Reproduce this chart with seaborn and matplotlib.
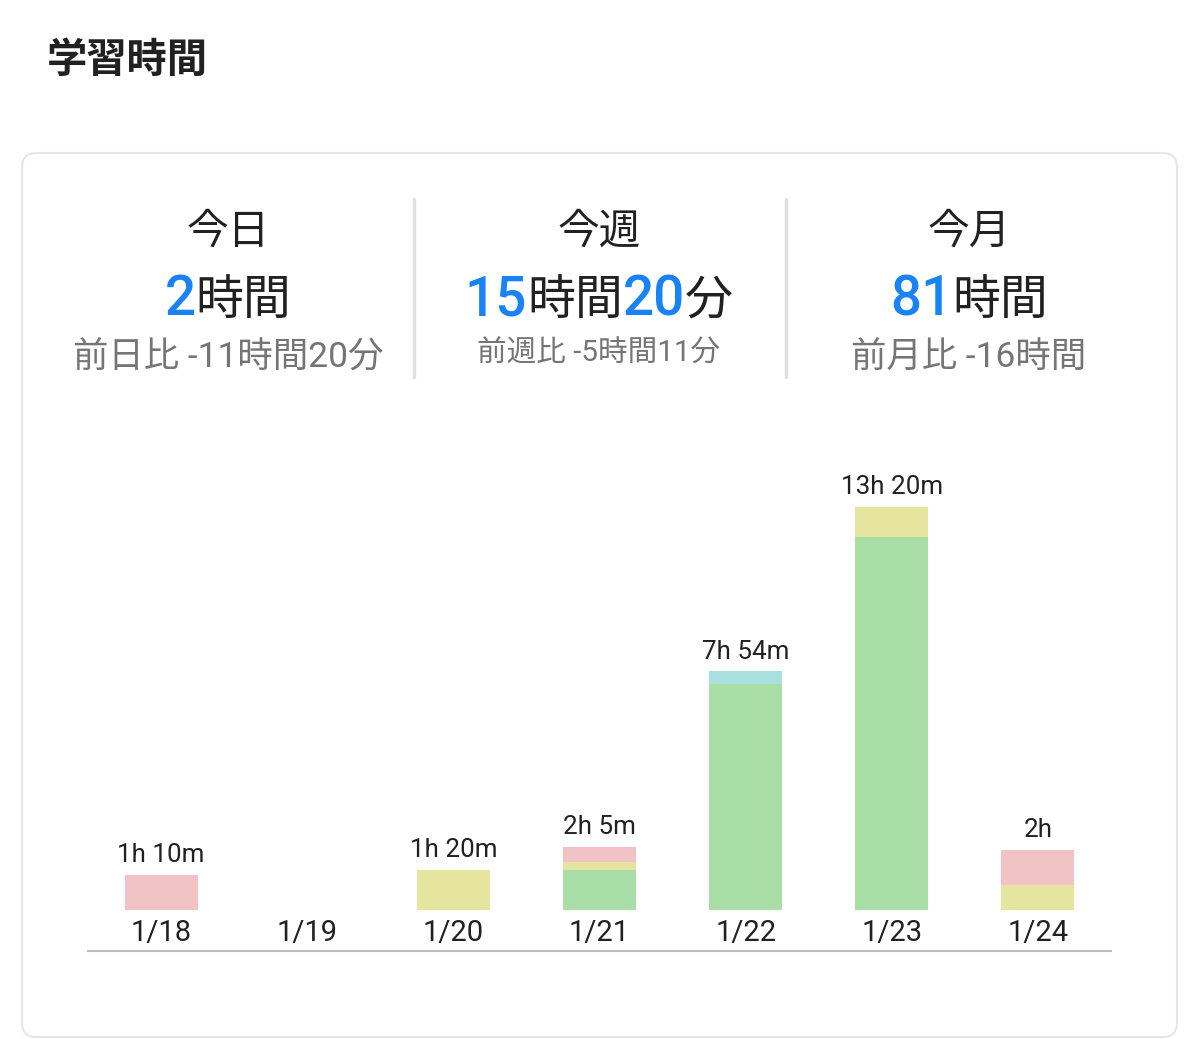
import matplotlib
matplotlib.use("Agg")
import matplotlib.pyplot as plt
import seaborn as sns
import pandas as pd
import numpy as np
from matplotlib.patches import FancyBboxPatch
from matplotlib.lines import Line2D

sns.set_theme(style="white")
FONTS = ['Roboto', 'Noto Sans CJK JP', 'DejaVu Sans']
plt.rcParams['font.family'] = FONTS

# ---- data ----
dates = ["1/18", "1/19", "1/20", "1/21", "1/22", "1/23", "1/24"]
green_min = [0, 0, 0, 80, 448, 740, 0]
yellow_min = [0, 0, 80, 15, 0, 60, 50]
pink_min = [70, 0, 0, 30, 0, 0, 70]
cyan_min = [0, 0, 0, 0, 26, 0, 0]
series_names = ["green", "yellow", "pink", "cyan"]
series_colors = ["#A9DFA6", "#E5E5A0", "#F2C3C4", "#A8DFDF"]

title_text = "学習時間"
stat_heads = ["今日", "今週", "今月"]
stat_values = [[("2", True), ("時間", False)],
               [("15", True), ("時間", False), ("20", True), ("分", False)],
               [("81", True), ("時間", False)]]
stat_subs = ["前日比 -11時間20分", "前週比 -5時間11分", "前月比 -16時間"]

W, H = 1200, 1039
fig = plt.figure(figsize=(W / 100, H / 100), dpi=100)
fig.patch.set_facecolor("white")

def fx(px):
    return px / W

def fy(py):
    return 1 - py / H

# card
card = FancyBboxPatch((fx(22), fy(1037)), fx(1177) - fx(22), fy(153) - fy(1037),
                      boxstyle="round,pad=0,rounding_size=0.012",
                      mutation_aspect=W / H,
                      transform=fig.transFigure, facecolor="white",
                      edgecolor="#E6E6E6", linewidth=1.5, zorder=0)
fig.add_artist(card)

# title
fig.text(fx(47), fy(61), title_text, fontsize=29, fontweight="bold",
         color="#212121", ha="left", va="center", family=FONTS)

# dividers
for xp in [414, 786]:
    fig.add_artist(Line2D([fx(xp), fx(xp)], [fy(199), fy(377)],
                          transform=fig.transFigure, color="#E0E0E0", lw=2.5))

centers = [228, 599, 969]
sub_sizes = [25.5, 21.3, 25.5]
sub_y = [358, 354, 358]
renderer = fig.canvas.get_renderer()
for i, cx in enumerate(centers):
    fig.text(fx(cx), fy(232), stat_heads[i], fontsize=30, color="#212121",
             ha="center", va="center", family=FONTS)
    fig.text(fx(cx), fy(sub_y[i]), stat_subs[i], fontsize=sub_sizes[i], color="#757575",
             ha="center", va="center", family=FONTS)
    # rich text line
    texts = []
    widths = []
    for s, is_num in stat_values[i]:
        t = fig.text(0, fy(315), s, fontsize=39.5 if is_num else 34.5,
                     fontweight="medium" if is_num else "normal",
                     color="#1A82F7" if is_num else "#212121",
                     ha="left", va="baseline", family=FONTS)
        texts.append(t)
        widths.append(t.get_window_extent(renderer).width)
    total = sum(widths)
    x = cx - total / 2
    for t, w_ in zip(texts, widths):
        t.set_x(fx(x))
        x += w_

# ---- chart ----
ppm = 403 / 800.0
base_px = 910
ax_bottom_px = 951
ax_top_px = 430
ylo = -(ax_bottom_px - base_px) / ppm
yhi = (base_px - ax_top_px) / ppm
ax = fig.add_axes([fx(88), fy(ax_bottom_px), fx(1111) - fx(88), fy(ax_top_px) - fy(ax_bottom_px)])
ax.set_facecolor("none")

series_vals = [green_min, yellow_min, pink_min, cyan_min]
bottom = np.zeros(len(dates))
for name, vals, col in zip(series_names, series_vals, series_colors):
    df = pd.DataFrame({"date": dates, "minutes": vals})
    sns.barplot(data=df, x="date", y="minutes", order=dates, color=col,
                width=0.5, bottom=bottom.copy(), ax=ax, errorbar=None,
                saturation=1, linewidth=0)
    bottom += np.array(vals, dtype=float)

totals = bottom
for i, tot in enumerate(totals):
    if tot > 0:
        h, m = divmod(int(tot), 60)
        lab = f"{h}h {m}m" if m else f"{h}h"
        ax.annotate(lab, (i, tot), xytext=(0, 5.5), textcoords="offset points",
                    ha="center", va="bottom", fontsize=18.7, color="#212121",
                    family=FONTS)
    ax.text(i, -(933 - base_px) / ppm, dates[i], ha="center", va="center",
            fontsize=21, color="#212121", family=FONTS)

ax.set_xlim(-0.5, len(dates) - 0.5)
ax.set_ylim(ylo, yhi)
ax.set_xticks([])
ax.set_yticks([])
ax.set_xlabel("")
ax.set_ylabel("")
for s in ["top", "left", "right"]:
    ax.spines[s].set_visible(False)
ax.spines["bottom"].set_color("#BDBDBD")
ax.spines["bottom"].set_linewidth(1.5)

fig.savefig("out.png", dpi=100, facecolor="white")
